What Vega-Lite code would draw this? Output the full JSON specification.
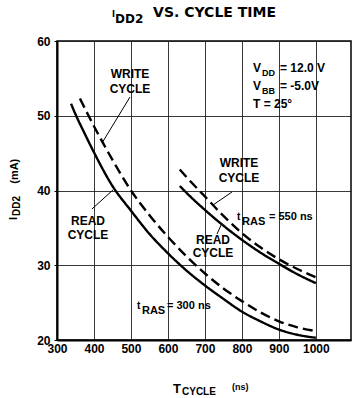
{
  "$schema": "https://vega.github.io/schema/vega-lite/v6.json",
  "width": 294,
  "height": 299,
  "autosize": {"type": "none"},
  "padding": {"left": 57, "top": 41, "right": 1, "bottom": 58},
  "background": "white",
  "config": {
    "view": {"stroke": "#000", "strokeWidth": 1.5},
    "font": "Liberation Sans",
    "axis": {
      "grid": true,
      "gridColor": "#222",
      "gridWidth": 0.9,
      "domainColor": "#000",
      "domainWidth": 2,
      "labelColor": "#000",
      "labelFont": "Liberation Sans",
      "labelFontWeight": "bold",
      "labelFontSize": 12,
      "tickColor": "#000",
      "title": null
    }
  },
  "datasets": {
    "curves": [
      {"series": "read300", "cycleType": "READ", "cycle": 338, "idd": 51.6},
      {"series": "read300", "cycleType": "READ", "cycle": 350, "idd": 50.2},
      {"series": "read300", "cycleType": "READ", "cycle": 375, "idd": 47.6},
      {"series": "read300", "cycleType": "READ", "cycle": 400, "idd": 45.1},
      {"series": "read300", "cycleType": "READ", "cycle": 450, "idd": 40.6},
      {"series": "read300", "cycleType": "READ", "cycle": 500, "idd": 37.3},
      {"series": "read300", "cycleType": "READ", "cycle": 550, "idd": 34.2},
      {"series": "read300", "cycleType": "READ", "cycle": 600, "idd": 31.6},
      {"series": "read300", "cycleType": "READ", "cycle": 650, "idd": 29.3},
      {"series": "read300", "cycleType": "READ", "cycle": 700, "idd": 27.3},
      {"series": "read300", "cycleType": "READ", "cycle": 750, "idd": 25.5},
      {"series": "read300", "cycleType": "READ", "cycle": 800, "idd": 23.8},
      {"series": "read300", "cycleType": "READ", "cycle": 850, "idd": 22.5},
      {"series": "read300", "cycleType": "READ", "cycle": 900, "idd": 21.4},
      {"series": "read300", "cycleType": "READ", "cycle": 950, "idd": 20.7},
      {"series": "read300", "cycleType": "READ", "cycle": 1000, "idd": 20.3},
      {"series": "write300", "cycleType": "WRITE", "cycle": 362, "idd": 52.3},
      {"series": "write300", "cycleType": "WRITE", "cycle": 400, "idd": 48.6},
      {"series": "write300", "cycleType": "WRITE", "cycle": 425, "idd": 46.3},
      {"series": "write300", "cycleType": "WRITE", "cycle": 450, "idd": 44.1},
      {"series": "write300", "cycleType": "WRITE", "cycle": 500, "idd": 40.0},
      {"series": "write300", "cycleType": "WRITE", "cycle": 550, "idd": 36.7},
      {"series": "write300", "cycleType": "WRITE", "cycle": 600, "idd": 33.8},
      {"series": "write300", "cycleType": "WRITE", "cycle": 650, "idd": 31.2},
      {"series": "write300", "cycleType": "WRITE", "cycle": 700, "idd": 28.9},
      {"series": "write300", "cycleType": "WRITE", "cycle": 750, "idd": 26.9},
      {"series": "write300", "cycleType": "WRITE", "cycle": 800, "idd": 25.2},
      {"series": "write300", "cycleType": "WRITE", "cycle": 850, "idd": 23.7},
      {"series": "write300", "cycleType": "WRITE", "cycle": 900, "idd": 22.5},
      {"series": "write300", "cycleType": "WRITE", "cycle": 950, "idd": 21.7},
      {"series": "write300", "cycleType": "WRITE", "cycle": 1000, "idd": 21.2},
      {"series": "read550", "cycleType": "READ", "cycle": 632, "idd": 40.6},
      {"series": "read550", "cycleType": "READ", "cycle": 650, "idd": 39.7},
      {"series": "read550", "cycleType": "READ", "cycle": 700, "idd": 37.4},
      {"series": "read550", "cycleType": "READ", "cycle": 750, "idd": 35.3},
      {"series": "read550", "cycleType": "READ", "cycle": 800, "idd": 33.4},
      {"series": "read550", "cycleType": "READ", "cycle": 850, "idd": 31.7},
      {"series": "read550", "cycleType": "READ", "cycle": 900, "idd": 30.2},
      {"series": "read550", "cycleType": "READ", "cycle": 950, "idd": 28.8},
      {"series": "read550", "cycleType": "READ", "cycle": 1000, "idd": 27.6},
      {"series": "write550", "cycleType": "WRITE", "cycle": 632, "idd": 42.8},
      {"series": "write550", "cycleType": "WRITE", "cycle": 650, "idd": 41.8},
      {"series": "write550", "cycleType": "WRITE", "cycle": 700, "idd": 39.2},
      {"series": "write550", "cycleType": "WRITE", "cycle": 750, "idd": 36.6},
      {"series": "write550", "cycleType": "WRITE", "cycle": 800, "idd": 34.3},
      {"series": "write550", "cycleType": "WRITE", "cycle": 850, "idd": 32.4},
      {"series": "write550", "cycleType": "WRITE", "cycle": 900, "idd": 30.8},
      {"series": "write550", "cycleType": "WRITE", "cycle": 950, "idd": 29.5},
      {"series": "write550", "cycleType": "WRITE", "cycle": 1000, "idd": 28.4}
    ],
    "leaders": [
      {"cycle": 497.4, "idd": 52.51, "cycle2": 421.7, "idd2": 46.35},
      {"cycle": 394.6, "idd": 37.53, "cycle2": 451.4, "idd2": 40.07},
      {"cycle": 773.2, "idd": 39.8, "cycle2": 721.8, "idd2": 38.06},
      {"cycle": 732.7, "idd": 34.18, "cycle2": 746.2, "idd2": 35.65}
    ],
    "cycleWords": [
      {"cycle": 497.4, "idd": 55.05, "text": "WRITE"},
      {"cycle": 497.4, "idd": 53.04, "text": "CYCLE"},
      {"cycle": 383.8, "idd": 35.38, "text": "READ"},
      {"cycle": 383.8, "idd": 33.51, "text": "CYCLE"},
      {"cycle": 792.1, "idd": 43.14, "text": "WRITE"},
      {"cycle": 792.1, "idd": 41.14, "text": "CYCLE"},
      {"cycle": 721.8, "idd": 32.84, "text": "READ"},
      {"cycle": 721.8, "idd": 31.1, "text": "CYCLE"}
    ],
    "conditions": [
      {"cycle": 830.0, "idd": 55.85, "text": "V"},
      {"cycle": 903.0, "idd": 55.85, "text": "= 12.0 V"},
      {"cycle": 830.0, "idd": 53.44, "text": "V"},
      {"cycle": 903.0, "idd": 53.44, "text": "= -5.0V"},
      {"cycle": 830.0, "idd": 51.04, "text": "T = 25°"}
    ],
    "conditionSubs": [
      {"cycle": 854.3, "idd": 55.32, "text": "DD"},
      {"cycle": 854.3, "idd": 52.91, "text": "BB"}
    ],
    "trasT": [
      {"cycle": 786.7, "idd": 36.05, "text": "t"},
      {"cycle": 516.3, "idd": 24.15, "text": "t"}
    ],
    "trasSub": [
      {"cycle": 800.3, "idd": 35.38, "text": "RAS"},
      {"cycle": 529.8, "idd": 23.48, "text": "RAS"}
    ],
    "trasValue": [
      {"cycle": 873.3, "idd": 36.05, "text": "= 550 ns"},
      {"cycle": 597.5, "idd": 24.15, "text": "= 300 ns"}
    ],
    "titleMain": [{"cycle": 726, "idd": 63.2, "text": "VS. CYCLE TIME"}],
    "titleI": [{"cycle": 448.7, "idd": 63.2, "text": "I"}],
    "titleSub": [{"cycle": 456.8, "idd": 62.4, "text": "DD2"}],
    "yTitleMain": [
      {"cycle": 191.8, "idd": 36.05, "text": "I"},
      {"cycle": 194.5, "idd": 40.9, "text": "(mA)"}
    ],
    "yTitleSub": [{"cycle": 199.9, "idd": 36.6, "text": "DD2"}],
    "xTitleT": [{"cycle": 613.7, "idd": 12.91, "text": "T"}],
    "xTitleSub": [{"cycle": 638.0, "idd": 12.58, "text": "CYCLE"}],
    "xTitleUnit": [{"cycle": 773.2, "idd": 13.31, "text": "(ns)"}]
  },
  "layer": [
    {
      "data": {"name": "curves"},
      "mark": {"type": "line", "color": "#000", "strokeWidth": 2.4, "interpolate": "monotone"},
      "encoding": {
        "x": {
          "field": "cycle", "type": "quantitative",
          "scale": {"domain": [300, 1095], "nice": false, "zero": false},
          "axis": {"values": [300, 400, 500, 600, 700, 800, 900, 1000], "format": "d", "ticks": false, "labelPadding": 3, "title": null, "labelFlush": false}
        },
        "y": {
          "field": "idd", "type": "quantitative",
          "scale": {"domain": [20, 60], "nice": false, "zero": false},
          "axis": {"values": [20, 30, 40, 50, 60], "tickSize": 3, "labelPadding": 4, "title": null}
        },
        "detail": {"field": "series"},
        "strokeDash": {
          "field": "cycleType", "type": "nominal",
          "scale": {"domain": ["READ", "WRITE"], "range": [[1, 0], [10, 5]]},
          "legend": null
        }
      }
    },
    {
      "data": {"name": "leaders"},
      "mark": {"type": "rule", "color": "#000", "strokeWidth": 1},
      "encoding": {
        "x": {"field": "cycle", "type": "quantitative", "title": null},
        "y": {"field": "idd", "type": "quantitative", "title": null},
        "x2": {"field": "cycle2"},
        "y2": {"field": "idd2"}
      }
    },
    {
      "data": {"name": "cycleWords"},
      "mark": {"type": "text", "font": "Liberation Sans", "fontWeight": "bold", "fontSize": 12, "align": "center", "baseline": "alphabetic", "color": "#000"},
      "encoding": {
        "x": {"field": "cycle", "type": "quantitative", "title": null},
        "y": {"field": "idd", "type": "quantitative", "title": null},
        "text": {"field": "text"}
      }
    },
    {
      "data": {"name": "conditions"},
      "mark": {"type": "text", "font": "Liberation Sans", "fontWeight": "bold", "fontSize": 12, "align": "left", "baseline": "alphabetic", "color": "#000"},
      "encoding": {
        "x": {"field": "cycle", "type": "quantitative", "title": null},
        "y": {"field": "idd", "type": "quantitative", "title": null},
        "text": {"field": "text"}
      }
    },
    {
      "data": {"name": "conditionSubs"},
      "mark": {"type": "text", "font": "Liberation Sans", "fontWeight": "bold", "fontSize": 9, "align": "left", "baseline": "alphabetic", "color": "#000"},
      "encoding": {
        "x": {"field": "cycle", "type": "quantitative", "title": null},
        "y": {"field": "idd", "type": "quantitative", "title": null},
        "text": {"field": "text"}
      }
    },
    {
      "data": {"name": "trasT"},
      "mark": {"type": "text", "font": "Liberation Sans", "fontWeight": "bold", "fontSize": 10, "align": "left", "baseline": "alphabetic", "color": "#000"},
      "encoding": {
        "x": {"field": "cycle", "type": "quantitative", "title": null},
        "y": {"field": "idd", "type": "quantitative", "title": null},
        "text": {"field": "text"}
      }
    },
    {
      "data": {"name": "trasSub"},
      "mark": {"type": "text", "font": "Liberation Sans", "fontWeight": "bold", "fontSize": 11, "align": "left", "baseline": "alphabetic", "color": "#000"},
      "encoding": {
        "x": {"field": "cycle", "type": "quantitative", "title": null},
        "y": {"field": "idd", "type": "quantitative", "title": null},
        "text": {"field": "text"}
      }
    },
    {
      "data": {"name": "trasValue"},
      "mark": {"type": "text", "font": "Liberation Sans", "fontWeight": "bold", "fontSize": 11, "align": "left", "baseline": "alphabetic", "color": "#000"},
      "encoding": {
        "x": {"field": "cycle", "type": "quantitative", "title": null},
        "y": {"field": "idd", "type": "quantitative", "title": null},
        "text": {"field": "text"}
      }
    },
    {
      "data": {"name": "titleMain"},
      "mark": {"type": "text", "font": "DejaVu Sans", "fontWeight": "bold", "fontSize": 14, "align": "center", "baseline": "alphabetic", "color": "#000"},
      "encoding": {
        "x": {"field": "cycle", "type": "quantitative", "title": null},
        "y": {"field": "idd", "type": "quantitative", "title": null},
        "text": {"field": "text"}
      }
    },
    {
      "data": {"name": "titleI"},
      "mark": {"type": "text", "font": "DejaVu Sans", "fontWeight": "bold", "fontSize": 8, "align": "left", "baseline": "alphabetic", "color": "#000"},
      "encoding": {
        "x": {"field": "cycle", "type": "quantitative", "title": null},
        "y": {"field": "idd", "type": "quantitative", "title": null},
        "text": {"field": "text"}
      }
    },
    {
      "data": {"name": "titleSub"},
      "mark": {"type": "text", "font": "DejaVu Sans", "fontWeight": "bold", "fontSize": 12, "align": "left", "baseline": "alphabetic", "color": "#000"},
      "encoding": {
        "x": {"field": "cycle", "type": "quantitative", "title": null},
        "y": {"field": "idd", "type": "quantitative", "title": null},
        "text": {"field": "text"}
      }
    },
    {
      "data": {"name": "yTitleMain"},
      "mark": {"type": "text", "font": "Liberation Sans", "fontWeight": "bold", "fontSize": 11, "angle": 270, "align": "left", "baseline": "alphabetic", "color": "#000"},
      "encoding": {
        "x": {"field": "cycle", "type": "quantitative", "title": null},
        "y": {"field": "idd", "type": "quantitative", "title": null},
        "text": {"field": "text"}
      }
    },
    {
      "data": {"name": "yTitleSub"},
      "mark": {"type": "text", "font": "Liberation Sans", "fontWeight": "bold", "fontSize": 10, "angle": 270, "align": "left", "baseline": "alphabetic", "color": "#000"},
      "encoding": {
        "x": {"field": "cycle", "type": "quantitative", "title": null},
        "y": {"field": "idd", "type": "quantitative", "title": null},
        "text": {"field": "text"}
      }
    },
    {
      "data": {"name": "xTitleT"},
      "mark": {"type": "text", "font": "Liberation Sans", "fontWeight": "bold", "fontSize": 13, "align": "left", "baseline": "alphabetic", "color": "#000"},
      "encoding": {
        "x": {"field": "cycle", "type": "quantitative", "title": null},
        "y": {"field": "idd", "type": "quantitative", "title": null},
        "text": {"field": "text"}
      }
    },
    {
      "data": {"name": "xTitleSub"},
      "mark": {"type": "text", "font": "Liberation Sans", "fontWeight": "bold", "fontSize": 10, "align": "left", "baseline": "alphabetic", "color": "#000"},
      "encoding": {
        "x": {"field": "cycle", "type": "quantitative", "title": null},
        "y": {"field": "idd", "type": "quantitative", "title": null},
        "text": {"field": "text"}
      }
    },
    {
      "data": {"name": "xTitleUnit"},
      "mark": {"type": "text", "font": "Liberation Sans", "fontWeight": "bold", "fontSize": 9, "align": "left", "baseline": "alphabetic", "color": "#000"},
      "encoding": {
        "x": {"field": "cycle", "type": "quantitative", "title": null},
        "y": {"field": "idd", "type": "quantitative", "title": null},
        "text": {"field": "text"}
      }
    }
  ]
}
